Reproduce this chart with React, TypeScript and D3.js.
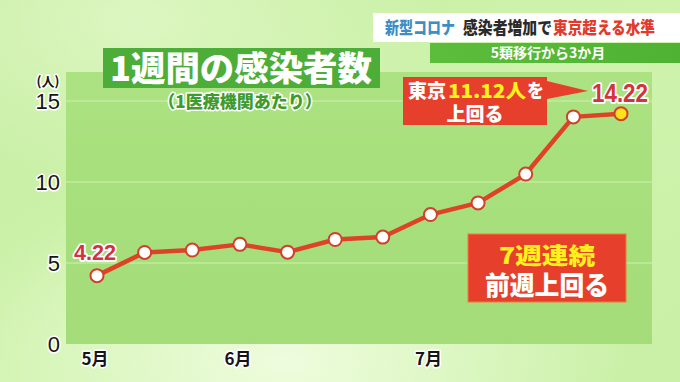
import React from "react";
import * as d3 from "d3";

const weekValues = [4.22, 5.65, 5.8, 6.15, 5.67, 6.45, 6.6, 7.99, 8.71, 10.49, 14.02, 14.22];
const monthLabels = ["5月", "6月", "7月"];
const monthIndex = [0, 3, 7];
const yTicks = [0, 5, 10, 15];
const firstLabel = "4.22";
const lastLabel = "14.22";

const W = 680;
const H = 382;
const JP = "'Noto Sans CJK JP', 'Noto Sans', sans-serif";
const NUM = "'Liberation Sans', Arial, sans-serif";

export default function App() {
  const x = d3.scaleLinear().domain([0, weekValues.length - 1]).range([97, 621]);
  const y = d3.scaleLinear().domain([0, 15]).range([344, 101]);
  const line = d3
    .line<number>()
    .x((_, i) => x(i))
    .y((d) => y(d));
  const plotLeft = 66;
  const plotRight = 652;
  const plotTop = 72;
  const lastI = weekValues.length - 1;

  return (
    <svg
      width={W}
      height={H}
      viewBox={`0 0 ${W} ${H}`}
      style={{ position: "absolute", left: 0, top: 0, display: "block" }}
    >
      <defs>
        <linearGradient id="bg" x1="0" y1="0" x2="1" y2="1">
          <stop offset="0" stopColor="#c4eda0" />
          <stop offset="0.5" stopColor="#cff3ad" />
          <stop offset="1" stopColor="#c9f0a6" />
        </linearGradient>
        <radialGradient id="glow" cx="0.42" cy="0.95" r="0.5">
          <stop offset="0" stopColor="#f0fde0" stopOpacity="0.95" />
          <stop offset="1" stopColor="#f0fde0" stopOpacity="0" />
        </radialGradient>
        <radialGradient id="glow2" cx="0.2" cy="0.05" r="0.45">
          <stop offset="0" stopColor="#e2f8c8" stopOpacity="0.8" />
          <stop offset="1" stopColor="#e2f8c8" stopOpacity="0" />
        </radialGradient>
        <linearGradient id="plot" x1="0" y1="0" x2="0" y2="1">
          <stop offset="0" stopColor="#ace281" />
          <stop offset="1" stopColor="#a3dc78" />
        </linearGradient>
        <linearGradient id="sub" x1="0" y1="0" x2="1" y2="0">
          <stop offset="0" stopColor="#5cbd3c" />
          <stop offset="1" stopColor="#4fb232" />
        </linearGradient>
      </defs>

      <rect x={0} y={0} width={W} height={H} fill="url(#bg)" />
      <rect x={0} y={0} width={W} height={H} fill="url(#glow)" />
      <rect x={0} y={0} width={W} height={H} fill="url(#glow2)" />

      {/* plot area */}
      <rect
        x={plotLeft}
        y={plotTop}
        width={plotRight - plotLeft}
        height={y(0) - plotTop}
        fill="url(#plot)"
      />
      {yTicks
        .filter((t) => t > 0)
        .map((t) => (
          <line
            key={t}
            x1={plotLeft}
            x2={plotRight}
            y1={y(t)}
            y2={y(t)}
            stroke="#cdf2ad"
            strokeWidth={1.2}
          />
        ))}

      {/* y axis labels */}
      {yTicks.map((t) => (
        <text
          key={t}
          x={60}
          y={y(t)}
          dy="0.36em"
          textAnchor="end"
          fontFamily={NUM}
          fontSize={22}
          fill="#151515"
          stroke="#ffffff"
          strokeWidth={3}
          paintOrder="stroke"
          strokeLinejoin="round"
        >
          {t}
        </text>
      ))}
      <text
        x={48}
        y={86}
        textAnchor="middle"
        fontFamily={JP}
        fontSize={13}
        fontWeight={700}
        fill="#151515"
        stroke="#ffffff"
        strokeWidth={3}
        paintOrder="stroke"
      >
        (人)
      </text>

      {/* x axis labels */}
      {monthIndex.map((mi, k) => (
        <text
          key={k}
          x={x(mi) - 2}
          y={359}
          dy="0.36em"
          textAnchor="middle"
          fontFamily={JP}
          fontSize={17}
          fontWeight={700}
          fill="#151515"
          stroke="#ffffff"
          strokeWidth={3}
          paintOrder="stroke"
          strokeLinejoin="round"
        >
          {monthLabels[k]}
        </text>
      ))}

      {/* line */}
      <path
        d={line(weekValues) || ""}
        fill="none"
        stroke="#de4328"
        strokeWidth={4.5}
        strokeLinejoin="round"
      />
      {weekValues.map((v, i) => (
        <circle
          key={i}
          cx={x(i)}
          cy={y(v)}
          r={6.5}
          fill={i === lastI ? "#ffe21a" : "#ffffff"}
          stroke="#d3402a"
          strokeWidth={2}
        />
      ))}

      {/* value labels */}
      <text
        x={x(0) - 2}
        y={252}
        dy="0.36em"
        textAnchor="middle"
        fontFamily={NUM}
        fontSize={22}
        fontWeight={700}
        fill="#d2343c"
        stroke="#ffffff"
        strokeWidth={3.5}
        paintOrder="stroke"
        strokeLinejoin="round"
        textLength={42}
        lengthAdjust="spacingAndGlyphs"
      >
        {firstLabel}
      </text>
      <text
        x={x(lastI) - 1}
        y={93}
        dy="0.36em"
        textAnchor="middle"
        fontFamily={NUM}
        fontSize={25}
        fontWeight={700}
        fill="#d2343c"
        stroke="#ffffff"
        strokeWidth={3.5}
        paintOrder="stroke"
        strokeLinejoin="round"
        textLength={56}
        lengthAdjust="spacingAndGlyphs"
      >
        {lastLabel}
      </text>

      {/* callout Tokyo */}
      <path
        d="M403,77 H547 V81 L588,91 L547,99 V125 H403 Z"
        fill="#e6402c"
      />
      <text x={408} y={98} fontFamily={JP} fontSize={19} fontWeight={900} fill="#ffffff" textLength={38} lengthAdjust="spacingAndGlyphs">
        東京
      </text>
      <text x={448} y={98} fontFamily={JP} fontSize={19} fontWeight={900} fill="#fff21c" textLength={78} lengthAdjust="spacingAndGlyphs">
        11.12人
      </text>
      <text x={527} y={98} fontFamily={JP} fontSize={19} fontWeight={900} fill="#ffffff" textLength={17} lengthAdjust="spacingAndGlyphs">
        を
      </text>
      <text
        x={475}
        y={121}
        textAnchor="middle"
        fontFamily={JP}
        fontSize={19}
        fontWeight={900}
        fill="#ffffff"
      >
        上回る
      </text>

      {/* callout 7 weeks */}
      <rect x={468} y={234} width={158} height={68} fill="#e6402c" stroke="#f07a3a" strokeWidth={1} />
      <text
        x={547}
        y={264}
        textAnchor="middle"
        fontFamily={JP}
        fontSize={23}
        fontWeight={900}
        fill="#fff21c"
        textLength={96}
        lengthAdjust="spacingAndGlyphs"
      >
        7週連続
      </text>
      <text
        x={547}
        y={295}
        textAnchor="middle"
        fontFamily={JP}
        fontSize={26}
        fontWeight={900}
        fill="#ffffff"
        textLength={124}
        lengthAdjust="spacingAndGlyphs"
      >
        前週上回る
      </text>

      {/* title box */}
      <rect x={103} y={48} width={277} height={40} fill="#4cad38" />
      <text
        x={241}
        y={81}
        textAnchor="middle"
        fontFamily={JP}
        fontSize={34}
        fontWeight={900}
        fill="#ffffff"
        textLength={262}
        lengthAdjust="spacingAndGlyphs"
      >
        1週間の感染者数
      </text>
      <text
        x={240}
        y={108}
        textAnchor="middle"
        fontFamily={JP}
        fontSize={17}
        fontWeight={900}
        fill="#3f9b2c"
        stroke="#ffffff"
        strokeWidth={3}
        paintOrder="stroke"
        strokeLinejoin="round"
      >
        （1医療機関あたり）
      </text>

      {/* header banner */}
      <rect x={373} y={13} width={307} height={29} fill="#ffffff" />
      <text x={385} y={34} fontFamily={JP} fontSize={17} fontWeight={900} fill="#3c8fc4" textLength={70} lengthAdjust="spacingAndGlyphs">
        新型コロナ
      </text>
      <text x={463} y={34} fontFamily={JP} fontSize={17} fontWeight={900} fill="#2a2a2a" textLength={89} lengthAdjust="spacingAndGlyphs">
        感染者増加で
      </text>
      <text x={553} y={34} fontFamily={JP} fontSize={17} fontWeight={900} fill="#e23a2c" textLength={102} lengthAdjust="spacingAndGlyphs">
        東京超える水準
      </text>
      <rect x={430} y={43} width={250} height={20} fill="url(#sub)" />
      <text
        x={548}
        y={58}
        textAnchor="middle"
        fontFamily={JP}
        fontSize={14}
        fontWeight={700}
        fill="#ffffff"
      >
        5類移行から3か月
      </text>
    </svg>
  );
}
